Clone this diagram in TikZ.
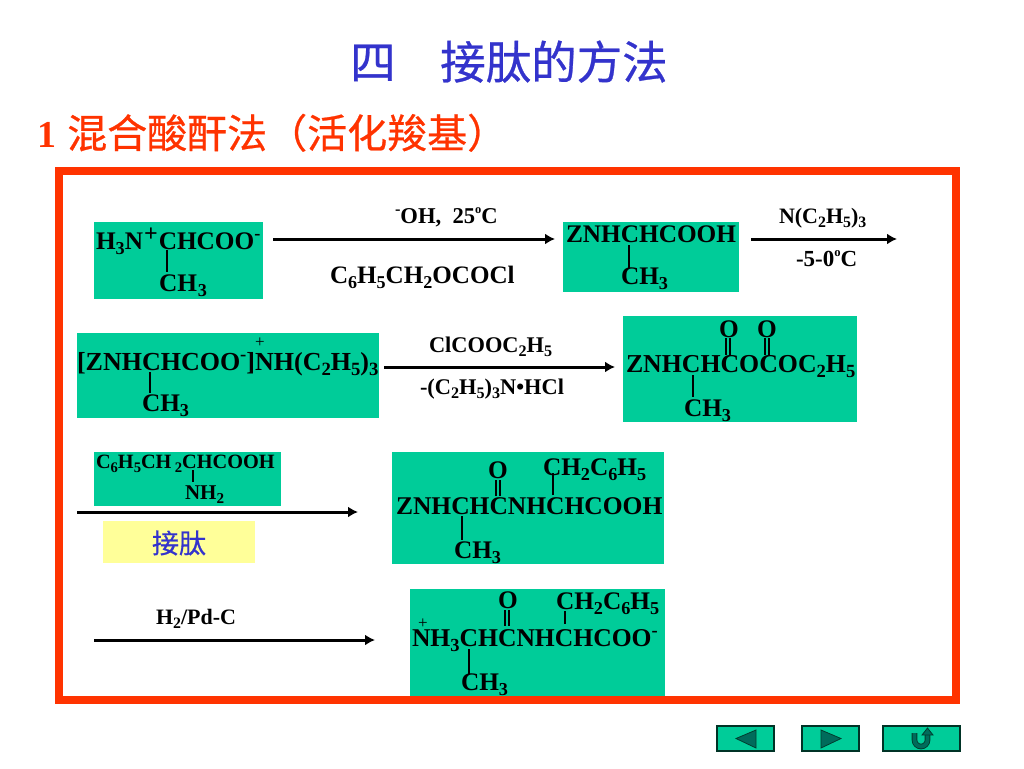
\documentclass[tikz,border=0pt]{standalone}
\usepackage{graphicx}
\usepackage{fontspec}
\setmainfont{Liberation Serif}[BoldFont={Liberation Serif Bold}]
\newfontfamily\cjkfont[FakeBold=0.6]{Noto Sans CJK SC}
\usetikzlibrary{arrows.meta}
\definecolor{boxgreen}{HTML}{00CC99}
\definecolor{framered}{HTML}{FF3300}
\definecolor{titleblue}{HTML}{3333CC}
\definecolor{palelemon}{HTML}{FFFF99}
\definecolor{btndark}{HTML}{006B5B}
\newcommand\sbs[1]{\raisebox{-.2em}{\scalebox{.72}{#1}}}
\newcommand\sps[1]{\raisebox{.36em}{\scalebox{.72}{#1}}}
\newcommand\dgr{\raisebox{.42em}{\scalebox{.55}{o}}}
\newcommand\fsz[1]{\fontsize{#1}{#1}\selectfont\bfseries}
\newcommand\cjksz[1]{\fontsize{#1}{#1}\selectfont\cjkfont}
\newcommand\bondv[3]{\coordinate (bt#1#2) at (#1,#2);\coordinate (bb#1#2) at (#1,#3);\draw[bondline] (bt#1#2) -- (bb#1#2);}
\newcommand\dbond[3]{\bondv{\the\numexpr#1-2\relax}{#2}{#3}\bondv{\the\numexpr#1+2\relax}{#2}{#3}}
\tikzset{
  x=1pt,y=-1pt,
  greenbox/.style={fill=boxgreen,draw=none},
  txt/.style={anchor=base west,inner sep=0pt,outer sep=0pt,text=black},
  big/.style={txt,font=\fsz{25.3}},
  mid/.style={txt,font=\fsz{22.6}},
  small/.style={txt,font=\fsz{22.4}},
  rxn/.style={line width=3pt,draw=black,-{Latex[length=10pt,width=11pt]}},
  bondline/.style={line width=1.2pt,draw=black},
  navbtn/.style={fill=boxgreen,draw=black!75!boxgreen,line width=1.2pt},
  navicon/.style={fill=btndark,draw=black!70!boxgreen,line width=.8pt}
}
\begin{document}
\begin{tikzpicture}
\useasboundingbox (0,0) rectangle (1024,768);
\fill[white] (0,0) rectangle (1024,768);
% title
\node[anchor=base west,inner sep=0pt,text=titleblue,font=\cjksz{45.5}] (title1) at (350,79) {四};
\node[anchor=base west,inner sep=0pt,text=titleblue,font=\cjksz{45.5}] (title2) at (440,79) {接肽的方法};
\node[anchor=base west,inner sep=0pt,text=framered,font=\fsz{38}] (sub0) at (37,147) {1};
\node[anchor=base west,inner sep=0pt,text=framered,font=\cjksz{40}] (sub1) at (67,148) {混合酸酐法（活化羧基）};
% frame
\draw[framered,line width=8pt,fill=white] (59,171) rectangle (956,700);
% boxes
\fill[greenbox] (94,222) rectangle (263,299);
\fill[greenbox] (563,222) rectangle (739,292);
\fill[greenbox] (77,333) rectangle (379,418);
\fill[greenbox] (623,316) rectangle (857,422);
\fill[greenbox] (94,452) rectangle (281,506);
\fill[palelemon] (103,521) rectangle (255,563);
\fill[greenbox] (392,452) rectangle (664,564);
\fill[greenbox] (410,589) rectangle (665,696);
% molecule 1
\node[big] (m1a) at (96,249) {H\sbs{3}N\kern1pt\raisebox{.3em}{\scalebox{.95}{+}}\kern1pt CHCOO\sps{-}};
\node[big] (m1b) at (159,291) {CH\kern1pt\sbs{3}};
\bondv{167}{250}{272}
% reagent arrow 1
\coordinate (a1s) at (273,239); \coordinate (a1e) at (555,239);
\draw[rxn] (a1s) -- (a1e);
\node[mid] (l1a) at (395,223) {\sps{-}OH,\ \ 25\dgr C};
\node[txt,font=\fsz{25.1}] (l1b) at (330,283) {C\sbs{6}H\sbs{5}CH\sbs{2}OCOCl};
% molecule 2
\node[big] (m2a) at (566,242) {ZNHCHCOOH};
\node[big] (m2b) at (621,284) {CH\sbs{3}};
\bondv{629}{245}{268}
\coordinate (a2s) at (751,239); \coordinate (a2e) at (897,239);
\draw[rxn] (a2s) -- (a2e);
\node[txt,font=\fsz{22}] (l2a) at (779,223) {N(C\sbs{2}H\sbs{5})\sbs{3}};
\node[txt,font=\fsz{23}] (l2b) at (796,266) {-5-0\dgr C};
% molecule 3
\node[txt,font=\fsz{26}] (m3a) at (77,370) {[ZNHCHCOO\sps{-}]NH(C\sbs{2}H\sbs{5})\sbs{3}};
\node[txt,font=\fontsize{17}{17}\selectfont] (m3p) at (255,347) {+};
\node[big] (m3b) at (142,411) {CH\sbs{3}};
\bondv{150}{372}{393}
\coordinate (a3s) at (384,367); \coordinate (a3e) at (615,367);
\draw[rxn] (a3s) -- (a3e);
\node[small] (l3a) at (429,352) {ClCOOC\sbs{2}H\sbs{5}};
\node[small] (l3b) at (420,394) {-(C\sbs{2}H\sbs{5})\sbs{3}N•HCl};
% molecule 4
\node[big] (m4o1) at (719,337) {O};
\node[big] (m4o2) at (757,337) {O};
\dbond{728}{338}{355}
\dbond{767}{338}{355}
\node[txt,font=\fsz{25.8}] (m4a) at (626,372) {ZNHCHCOCOC\sbs{2}H\sbs{5}};
\node[big] (m4b) at (684,416) {CH\sbs{3}};
\bondv{693}{375}{397}
% molecule 5
\node[txt,font=\fsz{20.3}] (m5a) at (96,468) {C\sbs{6}H\sbs{5}CH\,\sbs{2}CHCOOH};
\node[txt,font=\fsz{21}] (m5b) at (185,499) {NH\sbs{2}};
\bondv{193}{470}{482}
\coordinate (a4s) at (77,512); \coordinate (a4e) at (358,512);
\draw[rxn] (a4s) -- (a4e);
\node[anchor=center,inner sep=0pt,text=titleblue,font=\cjksz{27}] (jt) at (179,543) {接肽};
% molecule 6
\node[big] (m6o) at (488,478) {O};
\node[big] (m6c) at (543,475) {CH\sbs{2}C\sbs{6}H\sbs{5}};
\node[txt,font=\fsz{25.5}] (m6a) at (396,514) {ZNHCHCNHCHCOOH};
\node[big] (m6b) at (454,558) {CH\sbs{3}};
\dbond{498}{480}{496}
\bondv{553}{473}{495}
\bondv{462}{516}{540}
% h2 arrow
\node[txt,font=\fsz{22}] (l5) at (156,624) {H\sbs{2}/Pd-C};
\coordinate (a5s) at (94,640); \coordinate (a5e) at (375,640);
\draw[rxn] (a5s) -- (a5e);
% molecule 7
\node[big] (m7o) at (498,608) {O};
\node[big] (m7c) at (556,609) {CH\sbs{2}C\sbs{6}H\sbs{5}};
\node[txt,font=\fontsize{17}{17}\selectfont] (m7p) at (418,628) {+};
\node[txt,font=\fsz{25.6}] (m7a) at (412,646) {NH\sbs{3}CHCNHCHCOO\sps{-}};
\node[big] (m7b) at (461,690) {CH\sbs{3}};
\dbond{507}{610}{626}
\bondv{565}{611}{624}
\bondv{469}{649}{674}
% nav buttons
\draw[navbtn] (717,726) rectangle (774,751);
\draw[navicon] (736,738.5) -- (756,730) -- (756,748) -- cycle;
\draw[navbtn] (802,726) rectangle (859,751);
\draw[navbtn] (883,726) rectangle (960,751);
\draw[navicon] (821,730) -- (841,738.5) -- (821,748) -- cycle;
\draw[line width=5.6pt,draw=black!70!boxgreen] (914.5,733) -- (914.5,740) arc[start angle=180,end angle=360,radius=6.5pt] -- (927.5,735);
\draw[line width=3.8pt,draw=btndark] (914.5,733) -- (914.5,740) arc[start angle=180,end angle=360,radius=6.5pt] -- (927.5,735);
\draw[navicon] (922,735) -- (927.5,728) -- (933,735) -- cycle;
\end{tikzpicture}
\end{document}
